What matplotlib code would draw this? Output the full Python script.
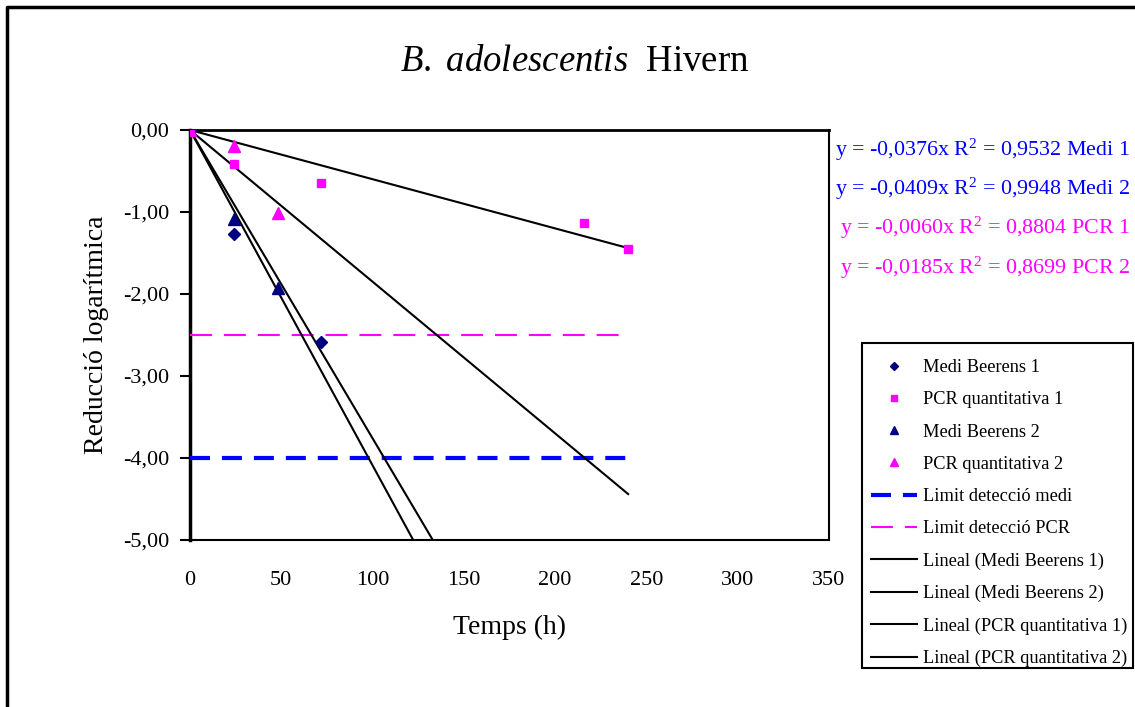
import numpy as np
import matplotlib
matplotlib.use("Agg")
import matplotlib.pyplot as plt
from matplotlib.ticker import FuncFormatter
from matplotlib.lines import Line2D
from matplotlib.patches import Rectangle

plt.rcParams['font.family'] = ['Liberation Serif', 'DejaVu Serif']
plt.rcParams['mathtext.fontset'] = 'custom'
plt.rcParams['mathtext.rm'] = 'Liberation Serif'
plt.rcParams['mathtext.it'] = 'Liberation Serif:italic'
plt.rcParams['lines.scale_dashes'] = False

# data
medi1_t = [0, 24, 72]
medi1_y = [0, -1.27, -2.58]
pcr1_t = [0, 24, 72, 216, 240]
pcr1_y = [0, -0.41, -0.65, -1.14, -1.45]
medi2_t = [0, 24, 48]
medi2_y = [0, -1.08, -1.93]
pcr2_t = [0, 24, 48]
pcr2_y = [0, -0.20, -1.01]

limit_medi = -4.0
limit_pcr = -2.5
t_max = 240

# trend slopes (linear fit through origin)
slopes = [-0.0376, -0.0409, -0.0060, -0.0185]
trend_names = ['Lineal (Medi Beerens 1)', 'Lineal (Medi Beerens 2)',
               'Lineal (PCR quantitativa 1)', 'Lineal (PCR quantitativa 2)']
equations = ['y = -0,0376x R$^{2}$ = 0,9532 Medi 1',
             'y = -0,0409x R$^{2}$ = 0,9948 Medi 2',
             'y = -0,0060x R$^{2}$ = 0,8804 PCR 1',
             'y = -0,0185x R$^{2}$ = 0,8699 PCR 2']
eq_colors = ['#0000FF', '#0000FF', '#FF00FF', '#FF00FF']

navy = '#000080'
mag = '#FF00FF'

W, H = 1135, 707
fig = plt.figure(figsize=(W / 100, H / 100), dpi=100)
ax = fig.add_axes([190 / W, 1 - 540 / H, (829 - 190) / W, (540 - 130) / H])

ax.plot(medi1_t, medi1_y, 'D', color=navy, ms=6, ls='none', label='Medi Beerens 1', zorder=5)
ax.plot(pcr1_t, pcr1_y, 's', color=mag, ms=6, ls='none', label='PCR quantitativa 1', zorder=5)
ax.plot(medi2_t, medi2_y, '^', color=navy, ms=8, ls='none', label='Medi Beerens 2', zorder=5)
ax.plot(pcr2_t, pcr2_y, '^', color=mag, ms=8, ls='none', label='PCR quantitativa 2', zorder=5)

ax.plot([0, t_max], [limit_medi, limit_medi], color='#0000FF', lw=3,
        ls=(0, (14.4, 8.6)), label='Limit detecció medi', zorder=3)
ax.plot([0, t_max], [limit_pcr, limit_pcr], color=mag, lw=1.5,
        ls=(0, (15.8, 8.6)), label='Limit detecció PCR', zorder=3)

tt = np.array([0, t_max])
for s, name in zip(slopes, trend_names):
    ax.plot(tt, s * tt, color='black', lw=1.5, label=name, zorder=4)

ax.set_xlim(0, 350)
ax.set_ylim(-5, 0)
ax.set_xticks(np.arange(0, 351, 50))
ax.set_yticks(np.arange(-5, 0.1, 1))
ax.yaxis.set_major_formatter(FuncFormatter(lambda v, p: f'{v:.2f}'.replace('.', ',')))
ax.tick_params(axis='x', length=0, pad=22.5, labelsize=16)
ax.tick_params(axis='y', length=7, width=1.5, direction='out', pad=8, labelsize=16)
for side in ['top', 'right', 'bottom']:
    ax.spines[side].set_linewidth(1.5)
ax.spines['left'].set_linewidth(2.5)
ax.spines['top'].set_linewidth(2)

ax.set_xlabel('Temps (h)', fontsize=20, labelpad=18)
ax.set_ylabel('Reducció logarítmica', fontsize=20, labelpad=10)

fig.text(575 / W, 1 - 62 / H, r'$\it{B.\ adolescentis}$  Hivern', fontsize=26.5,
         ha='center', va='center')

eq_y = [150, 189, 228, 268]
for txt, c, yy in zip(equations, eq_colors, eq_y):
    fig.text(1130 / W, 1 - yy / H, txt, color=c, fontsize=15.8, ha='right', va='center')

leg = ax.legend(loc='upper left', bbox_to_anchor=(862 / W, 1 - 350 / H),
                bbox_transform=fig.transFigure, fontsize=13.2, labelspacing=0.83,
                handlelength=2.5, handletextpad=0.35, borderaxespad=0,
                borderpad=0.5, frameon=False, markerscale=0.75)

# legend frame drawn at its place in the chart
fig.add_artist(Rectangle((862 / W, 1 - 668 / H), (1133 - 862) / W, (668 - 343) / H,
                         transform=fig.transFigure, fill=False, edgecolor='black', lw=1.5))

# outer chart border (top and left visible)
fig.add_artist(Line2D([7 / W, 7 / W, 1.0], [0.0, 1 - 7 / H, 1 - 7 / H],
                      transform=fig.transFigure, color='black', lw=2.5))

fig.savefig('out.png', dpi=100)
